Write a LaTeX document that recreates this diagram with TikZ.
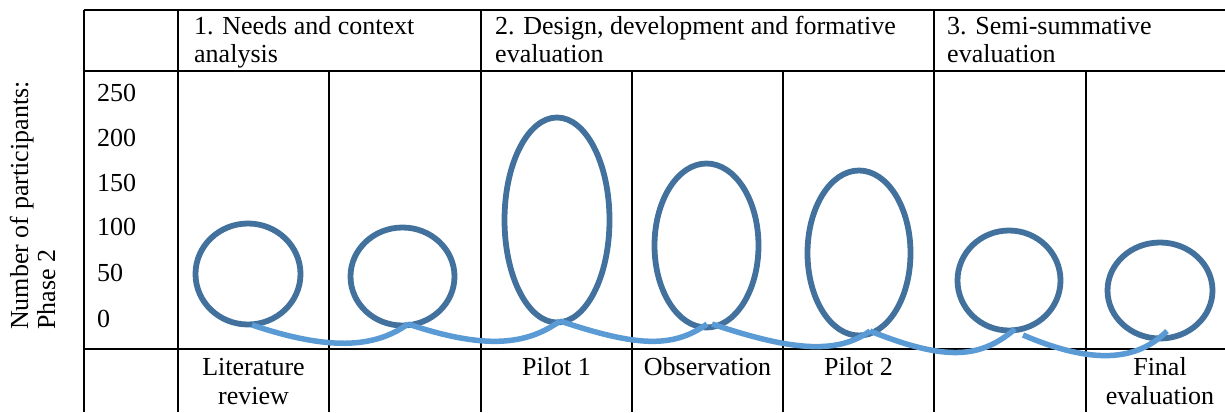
\documentclass[tikz,border=0pt]{standalone}
\usepackage{fontspec}
\setmainfont{Liberation Serif}
\usetikzlibrary{shapes.geometric,calc}
\definecolor{loopblue}{HTML}{41719C}
\definecolor{pathblue}{HTML}{5B9BD5}
\begin{document}
\begin{tikzpicture}[x=1pt,y=-1pt,
  grid/.style={line width=2.4pt, black},
  loopnode/.style={ellipse, draw=loopblue, line width=5.8pt, inner sep=0pt, outer sep=0pt},
  track/.style={draw=pathblue, line width=5.5pt},
  lbl/.style={font=\fontsize{26}{28}\selectfont, inner sep=0pt, anchor=base west},
  clbl/.style={font=\fontsize{26}{28}\selectfont, inner sep=0pt, anchor=base},
  rlbl/.style={font=\fontsize{26}{28}\selectfont, inner sep=0pt, anchor=base west, rotate=90}]

\useasboundingbox (0,0) rectangle (1225,412);

% table
\draw[grid] (84,10) -- (1225,10);
\draw[grid] (84,71) -- (1225,71);
\draw[grid] (84,349) -- (1225,349);
\foreach \x in {84,178,481,934} \draw[grid] (\x,10) -- (\x,412);
\foreach \x in {329,632,783,1086} \draw[grid] (\x,71) -- (\x,412);

% header texts
\node[lbl] (h1a) at (194,35) {1. Needs and context};
\node[lbl] (h1b) at (194,63) {analysis};
\node[lbl] (h2a) at (495,35) {2. Design, development and formative};
\node[lbl] (h2b) at (495,63) {evaluation};
\node[lbl] (h3a) at (947,35) {3. Semi-summative};
\node[lbl] (h3b) at (947,63) {evaluation};

% axis values
\node[lbl] (v250) at (97,101) {250};
\node[lbl] (v200) at (97,146) {200};
\node[lbl] (v150) at (97,191) {150};
\node[lbl] (v100) at (97,235) {100};
\node[lbl] (v50) at (97,281) {50};
\node[lbl] (v0) at (97,327) {0};

% rotated axis title
\node[rlbl] (ya) at (28,330) {Number of participants:};
\node[rlbl] (yb) at (55,330) {Phase 2};

% bottom labels
\node[clbl] (b1a) at (253.5,375) {Literature};
\node[clbl] (b1b) at (253.5,404) {review};
\node[clbl] (b3) at (556.5,375) {Pilot 1};
\node[clbl] (b4) at (707.5,375) {Observation};
\node[clbl] (b5) at (858.5,375) {Pilot 2};
\node[clbl] (b7a) at (1160,375) {Final};
\node[clbl] (b7b) at (1160,404) {evaluation};

% loops
\node[loopnode, minimum width=105pt, minimum height=101pt] (e1) at (248,274) {};
\node[loopnode, minimum width=104pt, minimum height=98pt] (e2) at (402.5,276.5) {};
\node[loopnode, minimum width=105pt, minimum height=205pt] (e3) at (557,220) {};
\node[loopnode, minimum width=104pt, minimum height=164pt] (e4) at (706.5,245.5) {};
\node[loopnode, minimum width=103pt, minimum height=165pt] (e5) at (859,253) {};
\node[loopnode, minimum width=103pt, minimum height=100pt] (e6) at (1009,280.5) {};
\node[loopnode, minimum width=105pt, minimum height=96pt] (e7) at (1160,290.5) {};

% connecting track
\draw[track] ($(e1.south)+(4,0.5)$) .. controls +(75,25) and +(-35,25) .. ($(e2.south)+(5.5,-1.5)$);
\draw[track] ($(e2.south)+(5.5,-1.5)$) .. controls +(75,25) and +(-35,25) .. ($(e3.south)+(3,-1.5)$);
\draw[track] ($(e3.south)+(3,-1.5)$) .. controls +(75,25) and +(-35,25) .. ($(e4.south)+(0.5,-3.5)$);
\draw[track] ($(e4.south)+(5.5,-3.5)$) .. controls +(75,25) and +(-35,25) .. ($(e5.south)+(11,-4.5)$);
\draw[track] ($(e5.south)+(11,-4.5)$) .. controls +(75,30) and +(-35,30) .. ($(e6.south)+(6,-1.5)$);
\draw[track] ($(e6.south)+(14,4.5)$) .. controls +(70,30) and +(-30,30) .. ($(e7.south)+(7,-7.5)$);
\end{tikzpicture}
\end{document}
